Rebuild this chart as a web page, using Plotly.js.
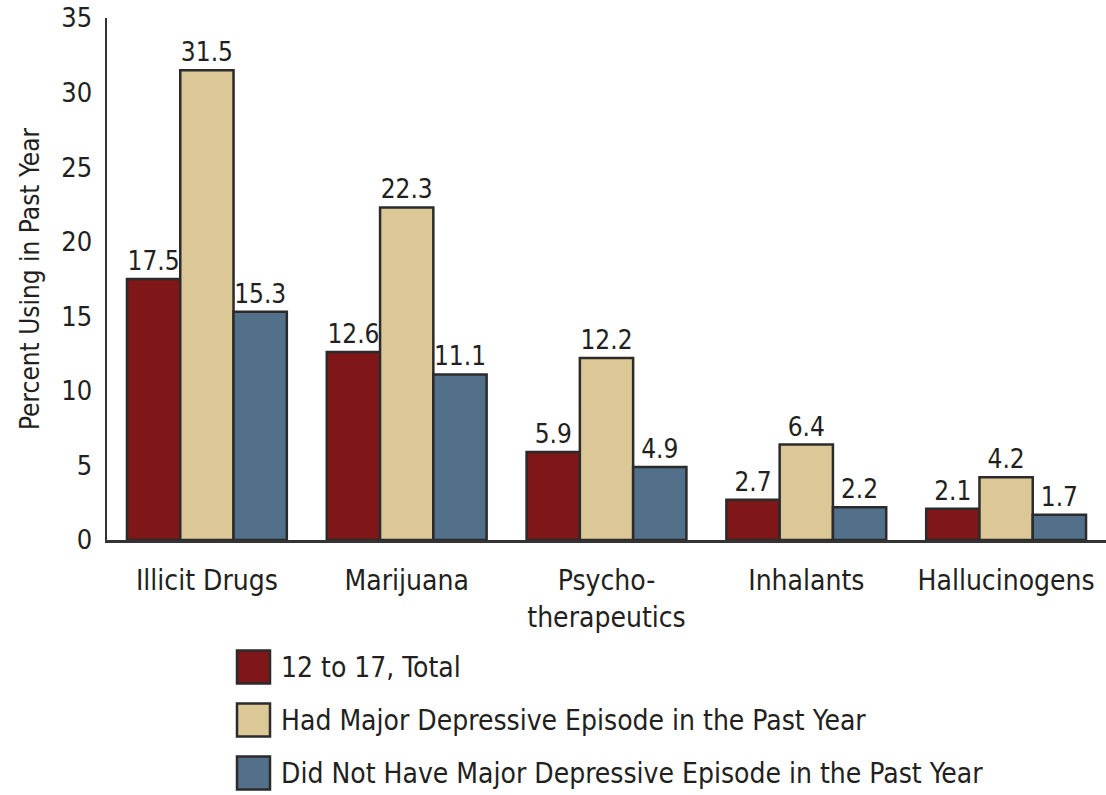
<!DOCTYPE html>
<html>
<head>
<meta charset="utf-8">
<script src="https://cdn.plot.ly/plotly-3.0.1.min.js"></script>
<style>html,body{margin:0;padding:0;background:#fff;}#chart{width:1106px;height:795px;}</style>
</head>
<body>
<div id="chart"></div>
<script>
const categories = ['Illicit Drugs', 'Marijuana', 'Psycho-<br>therapeutics', 'Inhalants', 'Hallucinogens'];
const seriesNames = ['12 to 17, Total', 'Had Major Depressive Episode in the Past Year', 'Did Not Have Major Depressive Episode in the Past Year'];
const totalValues = [17.5, 12.6, 5.9, 2.7, 2.1];
const hadMDEValues = [31.5, 22.3, 12.2, 6.4, 4.2];
const noMDEValues = [15.3, 11.1, 4.9, 2.2, 1.7];
const seriesColors = ['#7f1719', '#dcc896', '#52708a'];
const yTitle = 'Percent Using in Past Year';

const FONT = '"Liberation Sans Narrow", "Arial Narrow", "DejaVu Sans Condensed", sans-serif';
const TXT = '#231f20';
const W = 1106, H = 795;
const M = {l: 107, r: 0, t: 18, b: 255};
const PW = W - M.l - M.r, PH = H - M.t - M.b;
const px2x = p => (p - M.l) / PW;
const py2y = p => (H - M.b - p) / PH;

const allValues = [totalValues, hadMDEValues, noMDEValues];
const traces = allValues.map((vals, i) => ({
  type: 'bar',
  name: seriesNames[i],
  x: categories,
  y: vals,
  marker: {color: seriesColors[i], line: {color: '#2b2b2b', width: 2.5}},
  text: vals.map(v => v.toFixed(1)),
  textposition: 'outside',
  textfont: {family: FONT, size: 26, color: TXT},
  cliponaxis: false,
  hoverinfo: 'x+y'
}));

const shapes = [], annotations = [];
const legendRows = [667, 720, 773];
seriesNames.forEach((name, i) => {
  const cy = legendRows[i];
  shapes.push({
    type: 'rect', xref: 'paper', yref: 'paper',
    x0: px2x(237), x1: px2x(270), y0: py2y(cy - 16.5), y1: py2y(cy + 16.5),
    fillcolor: seriesColors[i], line: {color: '#2b2b2b', width: 2.5}
  });
  annotations.push({
    xref: 'paper', yref: 'paper', x: px2x(279), y: py2y(cy),
    xanchor: 'left', yanchor: 'middle', showarrow: false,
    text: name, font: {family: FONT, size: 28, color: TXT}
  });
});

const layout = {
  width: W, height: H,
  margin: M,
  paper_bgcolor: '#fff', plot_bgcolor: '#fff',
  showlegend: false,
  barmode: 'group',
  bargap: 0.2,
  bargroupgap: 0,
  font: {family: FONT, color: TXT},
  xaxis: {
    type: 'category',
    range: [-0.5, 4.5],
    showline: true, linecolor: '#333', linewidth: 2.5,
    ticks: 'outside', ticklen: 14, tickcolor: 'rgba(0,0,0,0)',
    showgrid: false, zeroline: false,
    tickfont: {family: FONT, size: 28, color: TXT}
  },
  yaxis: {
    range: [0, 35], dtick: 5,
    showline: true, linecolor: '#333', linewidth: 2.5,
    ticks: 'outside', ticklen: 7, tickcolor: 'rgba(0,0,0,0)',
    showgrid: false, zeroline: false,
    tickfont: {family: FONT, size: 27, color: TXT},
    title: {text: yTitle, font: {family: FONT, size: 26, color: TXT}, standoff: 14}
  },
  shapes: shapes,
  annotations: annotations
};

Plotly.newPlot('chart', traces, layout, {displayModeBar: false, staticPlot: true});
</script>
</body>
</html>
